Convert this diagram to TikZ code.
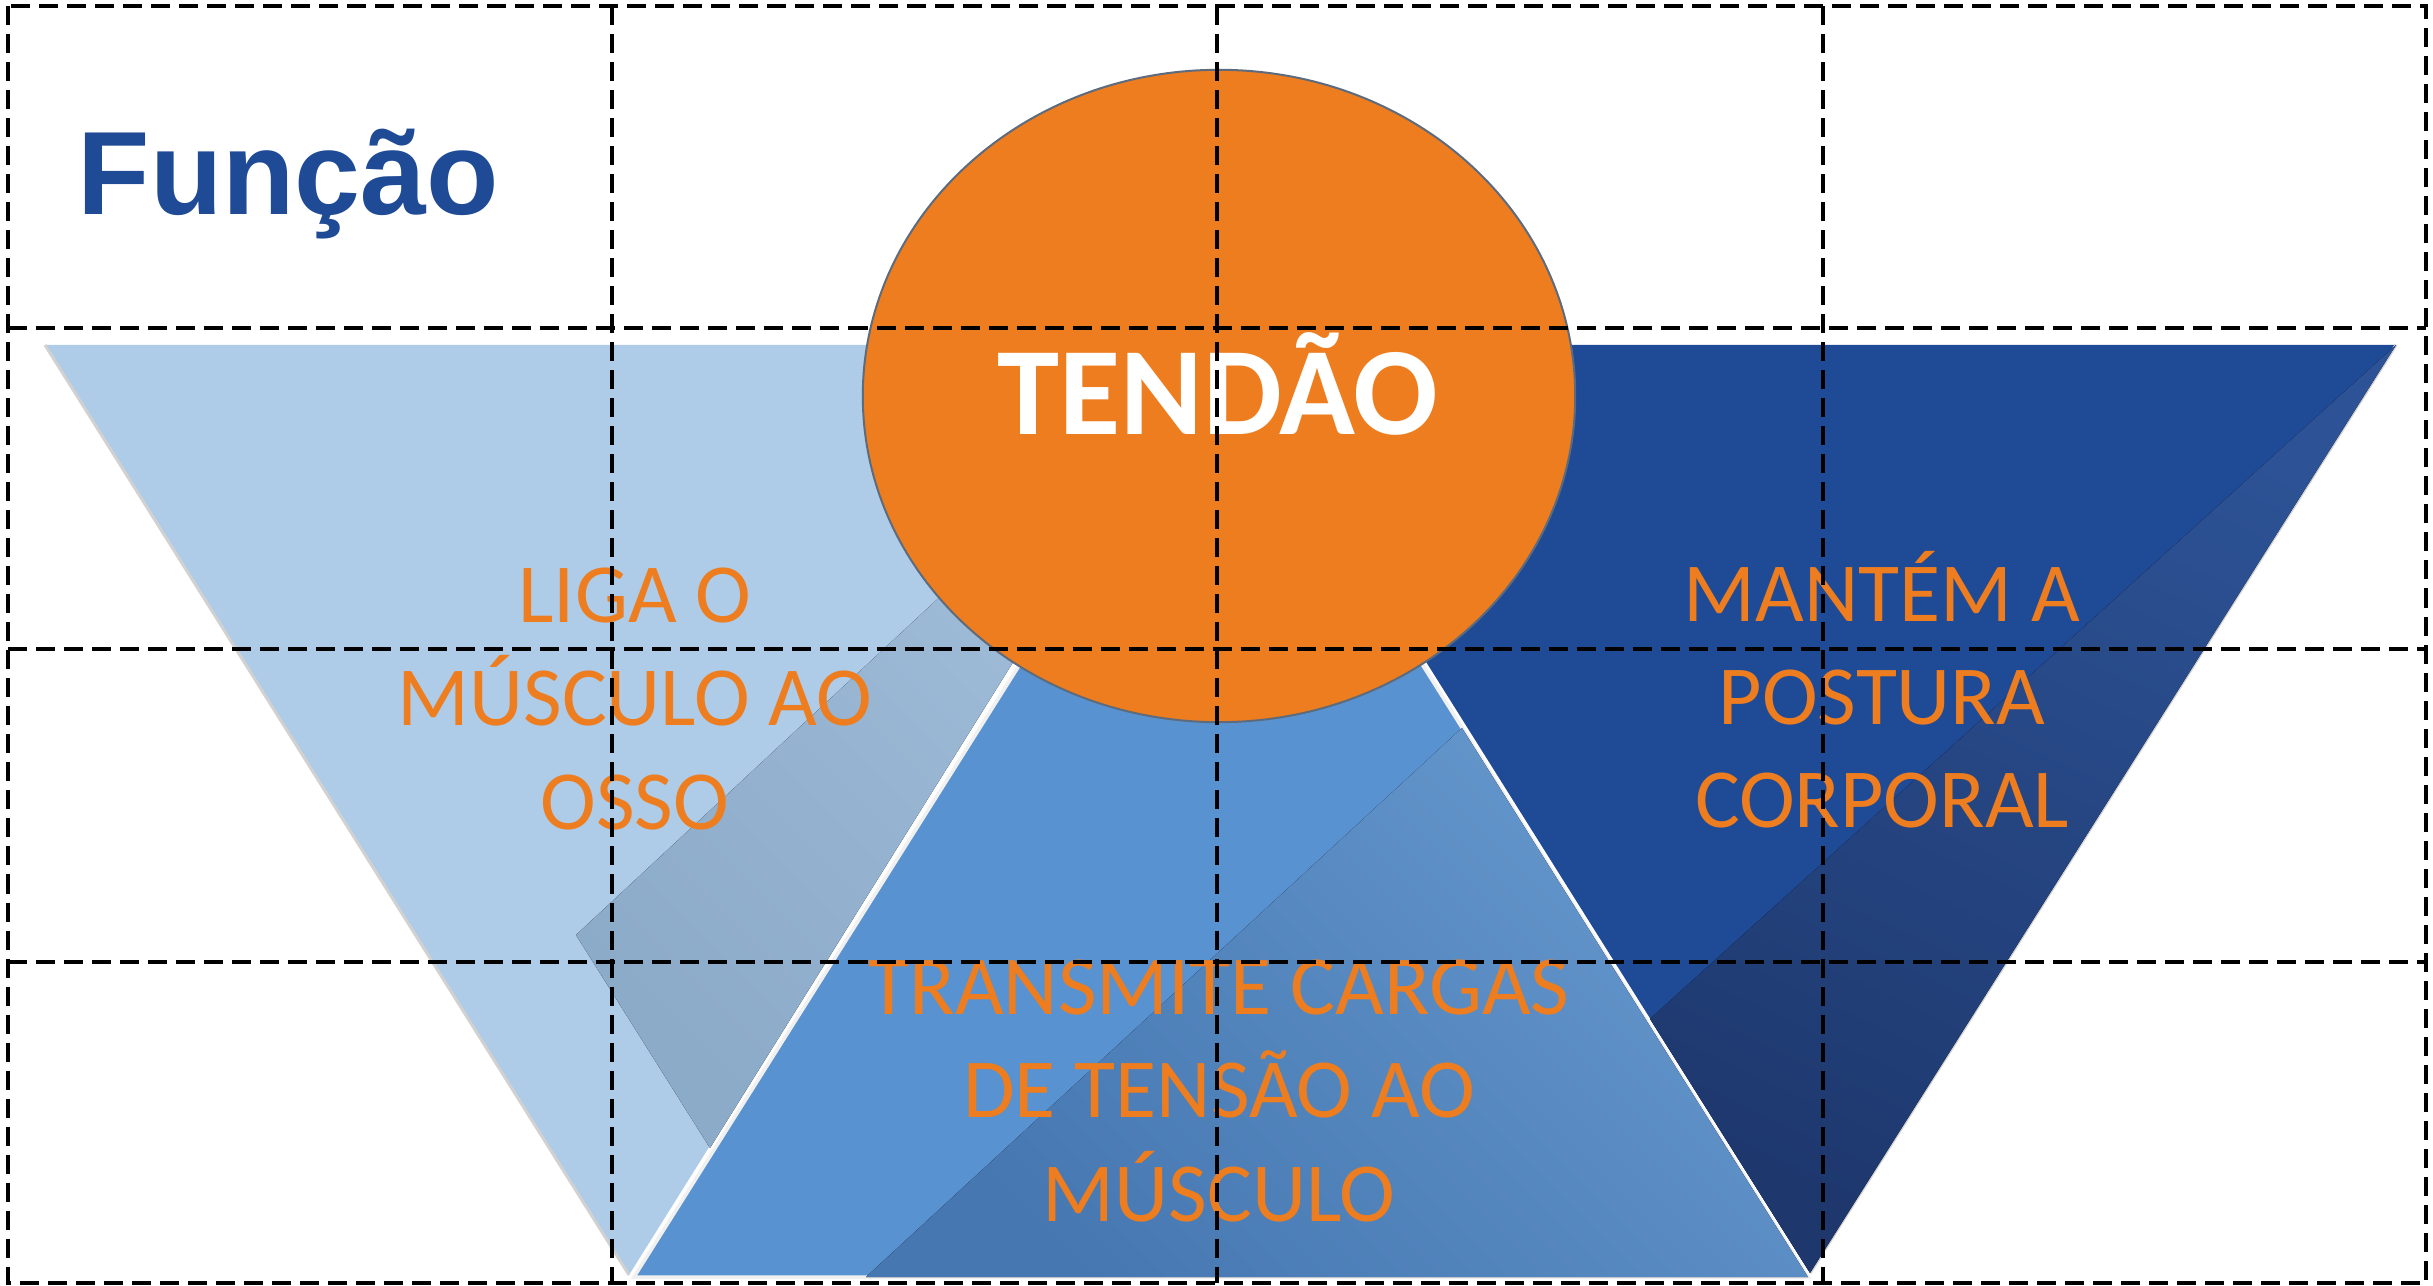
\documentclass[tikz,border=0pt]{standalone}
\usepackage{fontspec}
\setmainfont{Carlito}
\newfontfamily\titlefont{Liberation Sans}
\usepackage{xcolor}
\usetikzlibrary{positioning}
\usetikzlibrary{calc}

\definecolor{lightblue}{HTML}{AECBE7}
\definecolor{midblue}{HTML}{5892D0}
\definecolor{darkblue}{HTML}{1F4A96}
\definecolor{tendonorange}{HTML}{ED7D1F}
\definecolor{circleedge}{HTML}{5D6B7D}
\definecolor{lshadetop}{HTML}{A3BFDB}
\definecolor{lshadebot}{HTML}{8CABC9}
\definecolor{rshadetop}{HTML}{2D5396}
\definecolor{rshadebot}{HTML}{1E386E}
\definecolor{mshadetop}{HTML}{6598CD}
\definecolor{mshadebot}{HTML}{4677B1}

\begin{document}
\begin{tikzpicture}[x=0.01cm,y=-0.01cm,
  gridline/.style={line width=0.04cm, dash pattern=on 0.19cm off 0.09cm},
  orangetext/.style={text=tendonorange, align=center, inner sep=0pt, font=\fontsize{23.9pt}{29.3pt}\selectfont}]
\useasboundingbox (0,0) rectangle (2433,1286);
\coordinate (l1) at (45,345);
\coordinate (l2) at (1211,345);
\coordinate (l3) at (629,1275);
\coordinate (m1) at (634,1277);
\coordinate (m2) at (1808,1277);
\coordinate (m3) at (1221,345);
\coordinate (r1) at (1227,345);
\coordinate (r2) at (2396,345);
\coordinate (r3) at (1810,1273);
\coordinate (lo) at (576,935);
\coordinate (le) at (710,1148);
\coordinate (ro) at (1650,1019);
\coordinate (mo1) at (866,1277);
\coordinate (mo2) at (1462,728);
\coordinate (c0) at (1219,396);

  % left and right funnels
  \fill[lightblue] (l1) to[] (l2) to[] (l3) -- cycle;
  \draw[black!18, line width=0.03cm] (l1) to[] (l3);
  \fill[top color=lshadetop, bottom color=lshadebot, shading angle=-45] (l2) to[] (lo) to[] (le) -- cycle;
  \fill[darkblue] (r1) to[] (r2) to[] (r3) -- cycle;
  \draw[black!18, line width=0.03cm] (r2) to[] (r3);
  \fill[top color=rshadetop, bottom color=rshadebot, shading angle=-25] (r2) to[] (ro) to[] (r3) -- cycle;

  % middle one on top
  \filldraw[draw=white!88!gray, fill=midblue, line width=0.035cm] (m1) to[] (m2) to[] (m3) -- cycle;
  \fill[top color=mshadetop, bottom color=mshadebot, shading angle=-45] (mo1) to[] (mo2) to[] (m2) -- cycle;

  \filldraw[draw=circleedge, fill=tendonorange, line width=0.02cm] (c0) ellipse [x radius=3.56cm, y radius=3.26cm];

  \node (title) at (77,215) [anchor=base west, inner sep=0pt, text=darkblue, font=\titlefont\bfseries\fontsize{33.7pt}{40pt}\selectfont] {Função};
  \node (tendao) at (1218,435) [anchor=base, inner sep=0pt, text=white, font=\bfseries\fontsize{35.6pt}{42pt}\selectfont] {TENDÃO};
  \node (liga) at (635,699) [orangetext] {LIGA O\\MÚSCULO AO\\OSSO};
  \node (mantem) at (1882,690) [orangetext] {MANTÉM A\\POSTURA\\CORPORAL};
  \node (transmite) at (1219,1091) [orangetext] {TRANSMITE CARGAS\\DE TENSÃO AO\\MÚSCULO};

  % grid
  \draw[gridline] (8,6) rectangle (2426,1283);
  \draw[gridline] (612,6) to[] (612,1283);
  \draw[gridline] (1217,6) to[] (1217,1283);
  \draw[gridline] (1823,6) to[] (1823,1283);
  \draw[gridline] (8,328) to[] (2426,328);
  \draw[gridline] (8,649) to[] (2426,649);
  \draw[gridline] (8,962) to[] (2426,962);
\end{tikzpicture}
\end{document}
